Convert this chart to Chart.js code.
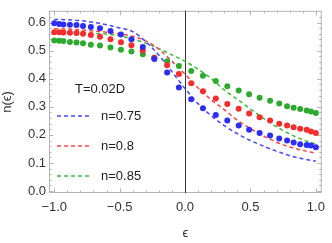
<!DOCTYPE html>
<html lang="en">
<head>
<meta charset="UTF-8">
<title>n(eps) at T=0.02D</title>
<script src="https://cdn.jsdelivr.net/npm/chart.js"></script>
<style>
  html, body { margin: 0; padding: 0; background: #fff; }
</style>
</head>
<body>
<canvas id="chart" width="332" height="243"></canvas>
<script>
// numerical points (dots)
const epsDots = [-1, -0.9625, -0.93, -0.88, -0.83, -0.78, -0.72, -0.65, -0.57, -0.49, -0.41, -0.323, -0.235, -0.137, -0.047,
                 0.047, 0.137, 0.235, 0.323, 0.41, 0.49, 0.57, 0.65, 0.72, 0.78, 0.83, 0.88, 0.93, 0.9625, 1];
const dots075 = [0.598, 0.595, 0.593, 0.592, 0.591, 0.588, 0.584, 0.580, 0.570, 0.558, 0.541, 0.513, 0.470, 0.422, 0.369,
                 0.327, 0.295, 0.271, 0.251, 0.233, 0.218, 0.207, 0.198, 0.187, 0.180, 0.173, 0.167, 0.164, 0.162, 0.156];
const dots080 = [0.566, 0.566, 0.565, 0.564, 0.563, 0.560, 0.556, 0.550, 0.541, 0.530, 0.519, 0.501, 0.474, 0.448, 0.417,
                 0.384, 0.355, 0.330, 0.310, 0.293, 0.276, 0.263, 0.251, 0.240, 0.233, 0.227, 0.222, 0.218, 0.212, 0.207];
const dots085 = [0.536, 0.535, 0.534, 0.531, 0.529, 0.526, 0.521, 0.518, 0.511, 0.503, 0.497, 0.487, 0.476, 0.462, 0.445,
                 0.428, 0.411, 0.392, 0.373, 0.358, 0.345, 0.332, 0.322, 0.312, 0.302, 0.297, 0.292, 0.287, 0.283, 0.278];

// dashed curves
const epsCurve = [-1, -0.9, -0.8, -0.7, -0.6, -0.5, -0.4, -0.3, -0.2, -0.1, 0, 0.1, 0.2, 0.3, 0.4, 0.5, 0.6, 0.7, 0.8, 0.9, 1];
const curve075 = [0.611, 0.610, 0.607, 0.601, 0.592, 0.581, 0.568, 0.532, 0.484, 0.425, 0.365, 0.311, 0.268, 0.233, 0.204,
                  0.180, 0.160, 0.142, 0.126, 0.115, 0.106];
const curve080 = [0.578, 0.577, 0.574, 0.570, 0.566, 0.560, 0.551, 0.535, 0.505, 0.462, 0.416, 0.367, 0.325, 0.290, 0.252,
                  0.222, 0.196, 0.174, 0.157, 0.145, 0.135];
const curve085 = [0.566, 0.565, 0.564, 0.562, 0.559, 0.553, 0.541, 0.527, 0.507, 0.485, 0.462, 0.434, 0.401, 0.360, 0.327,
                  0.292, 0.259, 0.229, 0.203, 0.183, 0.167];

const seriesLabels = ['n=0.75', 'n=0.8', 'n=0.85'];
const legendTitle = 'T=0.02D';
const xTicks = [-1, -0.5, 0, 0.5, 1];
const yTicks = [0, 0.1, 0.2, 0.3, 0.4, 0.5, 0.6];

const dotColors = ['rgb(45,45,245)', 'rgb(245,45,45)', 'rgb(45,170,45)'];
const lineColors = ['rgb(70,70,255)', 'rgb(255,70,70)', 'rgb(60,185,60)'];
const FONT = '"Liberation Sans", Arial, sans-serif';

function pts(xs, ys) {
    return xs.map((x, i) => ({ x: x, y: ys[i] }));
}

function fmt(v) {
    return (v < 0 ? '\u2212' : '') + Math.abs(v).toFixed(1);
}

const dotSets = [dots075, dots080, dots085].map((d, i) => ({
    label: seriesLabels[i] + ' dots',
    data: pts(epsDots, d),
    showLine: false,
    pointRadius: 3,
    pointBorderWidth: 0,
    pointBackgroundColor: dotColors[i]
}));

const lineSets = [curve075, curve080, curve085].map((c, i) => ({
    label: seriesLabels[i],
    data: pts(epsCurve, c),
    showLine: true,
    pointRadius: 0,
    borderColor: lineColors[i],
    borderWidth: 1.5,
    borderDash: [4, 3],
    cubicInterpolationMode: 'monotone'
}));

// frame with inward ticks on all sides + line at eps = 0
const framePlugin = {
    id: 'frame',
    beforeDatasetsDraw(chart) {
        const { ctx, chartArea: a, scales: { x, y } } = chart;
        ctx.save();
        ctx.strokeStyle = '#b4b4b4';
        ctx.lineWidth = 1;
        ctx.strokeRect(a.left + 0.5, a.top + 0.5, a.right - a.left - 1, a.bottom - a.top - 1);

        ctx.beginPath();
        for (let k = -10; k <= 10; k++) {
            const len = k % 5 === 0 ? 4.5 : 2.5;
            const px = Math.round(x.getPixelForValue(k / 10)) + 0.5;
            ctx.moveTo(px, a.bottom); ctx.lineTo(px, a.bottom - len);
            ctx.moveTo(px, a.top); ctx.lineTo(px, a.top + len);
        }
        for (let k = 0; k <= 32; k++) {
            const len = k % 5 === 0 ? 4.5 : 2.5;
            const py = Math.round(y.getPixelForValue(k / 50)) + 0.5;
            ctx.moveTo(a.left, py); ctx.lineTo(a.left + len, py);
            ctx.moveTo(a.right, py); ctx.lineTo(a.right - len, py);
        }
        ctx.stroke();

        const x0 = Math.round(x.getPixelForValue(0)) + 0.5;
        ctx.strokeStyle = '#333';
        ctx.beginPath();
        ctx.moveTo(x0, a.top);
        ctx.lineTo(x0, a.bottom);
        ctx.stroke();
        ctx.restore();
    }
};

// legend drawn inside the plot
const innerLegend = {
    id: 'innerLegend',
    afterDraw(chart) {
        const { ctx, chartArea: a } = chart;
        const left = a.left + 8;
        ctx.save();
        ctx.font = '13px ' + FONT;
        ctx.fillStyle = '#222';
        ctx.textBaseline = 'middle';
        ctx.textAlign = 'left';
        ctx.fillText(legendTitle, left + 18, 89);
        lineSets.forEach((ds, i) => {
            const yy = 116 + i * 30;
            ctx.strokeStyle = ds.borderColor;
            ctx.lineWidth = 1.5;
            ctx.setLineDash(ds.borderDash);
            ctx.beginPath();
            ctx.moveTo(left, yy);
            ctx.lineTo(left + 34, yy);
            ctx.stroke();
            ctx.fillText(ds.label, left + 44, yy);
        });
        ctx.restore();
    }
};

new Chart(document.getElementById('chart'), {
    type: 'scatter',
    data: { datasets: [...dotSets, ...lineSets] },
    options: {
        responsive: false,
        animation: false,
        layout: { padding: { top: 1, right: 5 } },
        plugins: { legend: { display: false }, tooltip: { enabled: false } },
        scales: {
            x: {
                min: -1.04, max: 1.045,
                afterBuildTicks: s => { s.ticks = xTicks.map(v => ({ value: v })); },
                afterFit: s => { s.height = 50; },
                grid: { display: false, drawTicks: false },
                border: { display: false },
                ticks: {
                    callback: v => fmt(v),
                    color: '#333', padding: 7, maxRotation: 0,
                    font: { size: 13, family: FONT }
                },
                title: {
                    display: true, text: '\u03f5', color: '#333',
                    font: { size: 13, family: FONT },
                    padding: { top: 0, bottom: 2 }
                }
            },
            y: {
                min: -0.007, max: 0.642,
                afterBuildTicks: s => { s.ticks = yTicks.map(v => ({ value: v })); },
                afterFit: s => { s.width = 49; },
                grid: { display: false, drawTicks: false },
                border: { display: false },
                ticks: {
                    callback: v => v.toFixed(1),
                    color: '#333', padding: 3,
                    font: { size: 13, family: FONT }
                },
                title: {
                    display: true, text: 'n(\u03f5)', color: '#333',
                    font: { size: 13, family: FONT },
                    padding: { top: 0, bottom: 0 }
                }
            }
        }
    },
    plugins: [framePlugin, innerLegend]
});
</script>
</body>
</html>
